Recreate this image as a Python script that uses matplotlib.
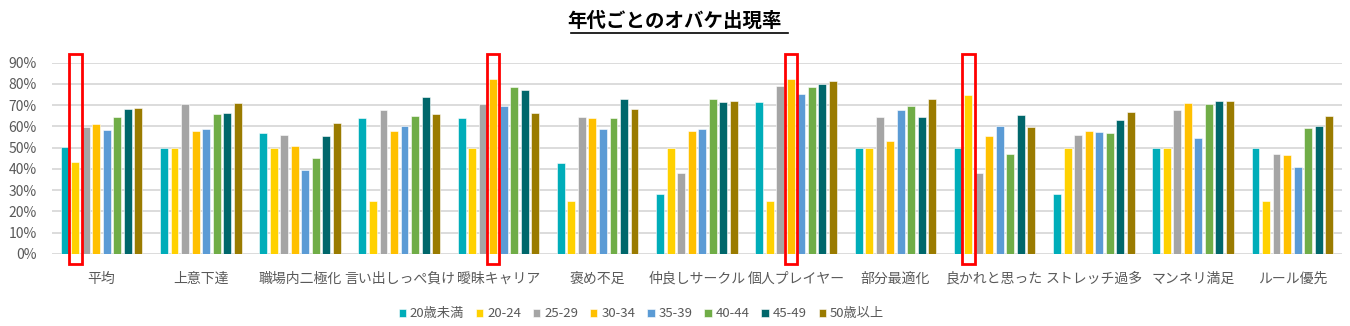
import matplotlib
matplotlib.use("Agg")
import matplotlib.pyplot as plt
from matplotlib.patches import Rectangle
from matplotlib.lines import Line2D
import numpy as np

plt.rcParams['font.family'] = ['Noto Sans CJK JP', 'DejaVu Sans']

categories = ["平均", "上意下達", "職場内二極化", "言い出しっぺ負け", "曖昧キャリア", "褒め不足",
              "仲良しサークル", "個人プレイヤー", "部分最適化", "良かれと思った", "ストレッチ過多",
              "マンネリ満足", "ルール優先"]
series_names = ["20歳未満", "20-24", "25-29", "30-34", "35-39", "40-44", "45-49", "50歳以上"]

s_u20 = [50.5, 50.0, 56.9, 64.1, 64.1, 42.6, 28.2, 71.3, 50.0, 50.0, 28.2, 50.0, 50.0]
s_2024 = [43.3, 50.0, 50.0, 25.0, 50.0, 25.0, 50.0, 25.0, 50.0, 74.8, 50.0, 50.0, 25.0]
s_2529 = [59.9, 70.5, 55.8, 67.6, 70.5, 64.6, 38.1, 79.2, 64.6, 38.1, 55.8, 67.6, 46.9]
s_3034 = [61.1, 57.8, 50.8, 57.8, 82.1, 64.1, 57.8, 82.1, 53.3, 55.5, 57.8, 71.0, 46.4]
s_3539 = [58.5, 58.8, 39.3, 60.3, 69.4, 58.8, 58.8, 75.5, 67.9, 60.3, 57.4, 54.4, 40.8]
s_4044 = [64.4, 66.0, 45.0, 64.9, 78.5, 63.8, 72.9, 78.5, 69.4, 47.2, 56.9, 70.5, 59.2]
s_4549 = [68.2, 66.5, 55.5, 74.0, 77.1, 72.9, 71.3, 79.8, 64.6, 65.2, 63.0, 72.1, 60.3]
s_50up = [68.7, 71.0, 61.6, 65.7, 66.5, 68.3, 72.1, 81.5, 72.9, 59.7, 66.8, 72.1, 64.9]
series_values = [s_u20, s_2024, s_2529, s_3034, s_3539, s_4044, s_4549, s_50up]

colors = ["#00ADB9", "#FFD100", "#A5A5A5", "#FFC000", "#5B9BD5", "#70AD47", "#00676B", "#9A7B00"]

# highlighted (category index, series index)
highlights = [(0, 1), (4, 3), (7, 3), (9, 1)]

fig = plt.figure(figsize=(13.5, 3.26), dpi=100)
ax = fig.add_axes([0.0385, 0.2209, 0.9555, 0.5868])

x = np.arange(len(categories))
pitch = 0.106
bw = 0.08
n = len(series_values)
for i, (vals, col, name) in enumerate(zip(series_values, colors, series_names)):
    off = (i - (n - 1) / 2) * pitch
    ax.bar(x + off, np.array(vals) / 100.0, width=bw, color=col, edgecolor="white",
           linewidth=0.4, label=name, zorder=3)

ax.set_xlim(-0.5, len(categories) - 0.5)
ax.set_ylim(0, 0.9)
ax.set_yticks(np.arange(0, 0.91, 0.1))
ax.set_yticklabels([f"{int(round(v*100))}%" for v in np.arange(0, 0.91, 0.1)])
ax.set_xticks(x)
ax.set_xticklabels(categories)
ax.tick_params(axis='both', length=0, labelsize=10, colors="#595959")
ax.tick_params(axis='x', pad=13)
ax.tick_params(axis='y', pad=11)
for sp in ax.spines.values():
    sp.set_visible(False)
ax.yaxis.grid(True, color="#D9D9D9", linewidth=1.3, zorder=0)
ax.set_axisbelow(True)

for (c, s) in highlights:
    off = (s - (n - 1) / 2) * pitch
    rect = Rectangle((c + off - 0.063, -0.047), 0.126, 0.988, fill=False,
                     edgecolor="#FF0000", linewidth=2, clip_on=False, zorder=5)
    ax.add_patch(rect)

# title with underline
fig.text(0.5, 0.935, "年代ごとのオバケ出現率", ha="center", va="center",
         fontsize=14, fontweight="bold", color="#000000")
fig.add_artist(Line2D([571 / 1350, 788 / 1350], [1 - 33 / 326, 1 - 33 / 326],
                      color="black", linewidth=1.2))

handles, labels = ax.get_legend_handles_labels()
fig.legend(handles, labels, loc="center", bbox_to_anchor=(0.475, 0.037), ncol=8,
           frameon=False, fontsize=9.5, handlelength=0.55, handleheight=0.55,
           handletextpad=0.3, columnspacing=0.9, labelcolor="#595959")

fig.savefig("out.png", dpi=100)
